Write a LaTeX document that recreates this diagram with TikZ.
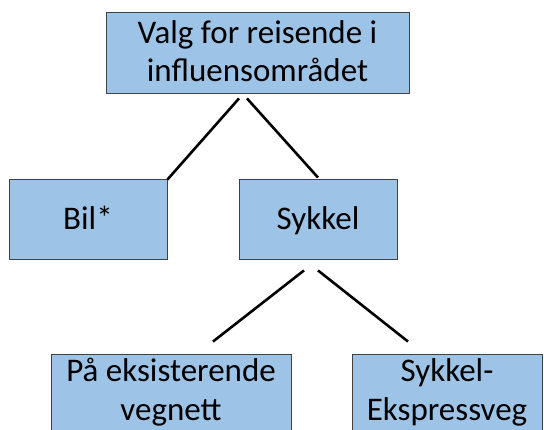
\documentclass[tikz,border=0pt]{standalone}
\usepackage{fontspec}
\setmainfont{Carlito}
\usetikzlibrary{calc}
\definecolor{boxfill}{RGB}{157,195,230}
\definecolor{boxline}{RGB}{65,65,65}
\begin{document}
\begin{tikzpicture}[x=1pt,y=-1pt,
  box/.style={draw=boxline,fill=boxfill,line width=0.9pt,rectangle,inner sep=0pt,
    align=center,font=\fontsize{33}{38.5}\selectfont,text=black},
  oneline/.style={text height=22pt,text depth=0pt},
  twoline/.style={text height=60.5pt,text depth=#1},
  conn/.style={line width=2.6pt,black}]
\useasboundingbox (0,0) rectangle (544,430);
\clip (0,0) rectangle (544,430);
\node[box,twoline=2pt,minimum width=303pt,minimum height=81pt] (top) at (257.5,52.5) {Valg for reisende i\\influensområdet};
\node[box,oneline,minimum width=158pt,minimum height=80pt] (bil) at (88,219) {Bil*};
\node[box,oneline,minimum width=158pt,minimum height=80pt] (syk) at (318,219) {Sykkel};
\node[box,twoline=7.5pt,minimum width=240pt,minimum height=80pt] (eks) at (171,394) {På eksisterende\\vegnett};
\node[box,twoline=7.5pt,minimum width=190pt,minimum height=80pt] (exp) at (447,394) {Sykkel-\\Ekspressveg};
\coordinate (t1) at ($(top.south)+(-18.5,5)$);
\coordinate (t2) at ($(top.south)+(-10.5,5)$);
\coordinate (b1) at ($(bil.north east)+(0,1)$);
\coordinate (s1) at ($(syk.north)+(0,-1)$);
\coordinate (u1) at ($(syk.south)+(-14,11)$);
\coordinate (u2) at ($(syk.south)+(0,11)$);
\coordinate (e1) at ($(eks.north)+(42,-12)$);
\coordinate (x1) at ($(exp.north)+(-39,-12)$);
\draw[conn] (t1) -- (b1);
\draw[conn] (t2) -- (s1);
\draw[conn] (u1) -- (e1);
\draw[conn] (u2) -- (x1);
\end{tikzpicture}
\end{document}
